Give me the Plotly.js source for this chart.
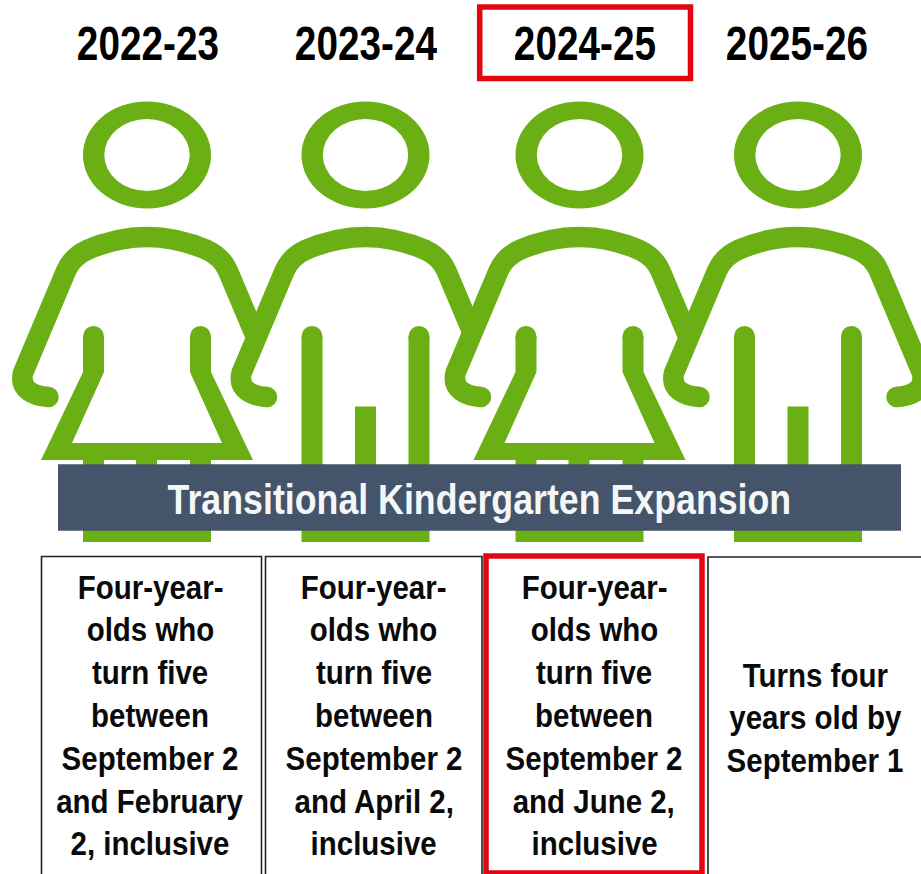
<!DOCTYPE html>
<html>
<head>
<meta charset="utf-8">
<script src="https://cdn.plot.ly/plotly-3.0.1.min.js"></script>
<style>html,body{margin:0;padding:0;background:#fff;overflow:hidden}</style>
</head>
<body>
<div id="chart" style="width:921px;height:874px"></div>
<script>
const schoolYears = ["2022-23", "2023-24", "2024-25", "2025-26"];
const yearLabelCentres = [147.5, 366, 585, 797];
const personCentres = [147, 365.5, 579.5, 798];
const personKinds = ["girl", "boy", "girl", "boy"];
const bannerText = "Transitional Kindergarten Expansion";
const eligibility = [
  ["Four-year-", "olds who", "turn five", "between", "September 2", "and February", "2, inclusive"],
  ["Four-year-", "olds who", "turn five", "between", "September 2", "and April 2,", "inclusive"],
  ["Four-year-", "olds who", "turn five", "between", "September 2", "and June 2,", "inclusive"],
  ["Turns four", "years old by", "September 1"]
];
const boxTextCentres = [150, 373.5, 594, 815];
const boxFirstLine = [587, 587, 587, 675];
const lineStep = 42.8;

const GREEN = "#6AAF13", NAVY = "#44546A", RED = "#E2060E", DARK = "#222222";
const FONT = "'Liberation Sans',Arial,sans-serif";
const shapes = [], annotations = [], squeeze = [];

function rect(x0, y0, x1, y1, fill) {
  shapes.push({type: "rect", x0, y0, x1, y1, fillcolor: fill, line: {width: 0}});
}
function ell(cx, cy, rx, ry, fill) {
  shapes.push({type: "circle", x0: cx - rx, x1: cx + rx, y0: cy - ry, y1: cy + ry, fillcolor: fill, line: {width: 0}});
}
function box(x0, y0, x1, y1, colour, width) {
  shapes.push({type: "rect", x0, y0, x1, y1, fillcolor: "rgba(0,0,0,0)", line: {color: colour, width}});
}
function label(x, y, text, size, colour, ratio) {
  annotations.push({x, y, xref: "x", yref: "y", text, showarrow: false, xanchor: "center", yanchor: "middle",
    font: {family: FONT, size, color: colour, weight: 700}});
  squeeze.push(ratio);
}
function person(c, kind, last) {
  const X = d => (c + d).toFixed(1);
  ell(c, 155, 64, 53.5, GREEN);
  ell(c, 155, 42.7, 36, "#ffffff");
  let d = `M${X(-98.5)},397 C${X(-113)},396 ${X(-128)},390 ${X(-124)},373 L${X(-81)},271 ` +
          `Q${X(-75)},257 ${X(-60)},250 Q${X(-30)},237 ${X(0)},237 Q${X(30)},237 ${X(60)},250 ` +
          `Q${X(75)},257 ${X(81)},271 `;
  d += last ? `L${X(124)},373 C${X(128)},390 ${X(113)},396 ${X(98.5)},397`
            : `L${X(108)},335`;
  shapes.push({type: "path", path: d, fillcolor: "rgba(0,0,0,0)", line: {color: GREEN, width: 20.5}});
  ell(c - 98.5, 397, 10.25, 10.25, GREEN);
  if (last) ell(c + 98.5, 397, 10.25, 10.25, GREEN);
  ell(c - 53.5, 336.5, 10.5, 10.5, GREEN);
  ell(c + 53.5, 336.5, 10.5, 10.5, GREEN);
  if (kind === "girl") {
    const p = [[-64,336],[-64,372],[-106,460],[106,460],[64,372],[64,336],[43,336],[43,372],[75,443],[-75,443],[-43,372],[-43,336]];
    shapes.push({type: "path", path: "M" + p.map(q => X(q[0]) + "," + q[1]).join(" L") + " Z", fillcolor: GREEN, line: {width: 0}});
    rect(c - 64, 458, c - 43, 466, GREEN);
    rect(c - 11, 458, c + 10, 466, GREEN);
    rect(c + 43, 458, c + 64, 466, GREEN);
  } else {
    rect(c - 64, 336, c - 43, 466, GREEN);
    rect(c + 43, 336, c + 64, 466, GREEN);
    rect(c - 10.5, 406.5, c + 10.5, 466, GREEN);
  }
  rect(c - 64, 520, c + 64, 542, GREEN);
}

personCentres.forEach((c, i) => person(c, personKinds[i], i === personCentres.length - 1));

rect(58, 464.3, 901, 530.7, NAVY);
label(479, 499, bannerText, 42, "#F4F6F8", 0.851);

box(479.7, 7, 690.5, 78.5, RED, 5.5);
box(41.5, 556.5, 261.5, 885, DARK, 1.6);
box(265.5, 556.5, 482, 885, DARK, 1.6);
box(708, 557, 940, 885, DARK, 1.6);
box(486, 556, 702, 873, RED, 5.5);

schoolYears.forEach((t, i) => label(yearLabelCentres[i], 42.5, t, 49, "#000000", 0.79));
eligibility.forEach((lines, i) => lines.forEach((t, j) =>
  label(boxTextCentres[i], boxFirstLine[i] + j * lineStep, t, 33, "#0A0A0A", 0.893)));

Plotly.newPlot("chart", [], {
  width: 921, height: 874, autosize: false,
  margin: {l: 0, r: 0, t: 0, b: 0, pad: 0},
  paper_bgcolor: "#ffffff", plot_bgcolor: "#ffffff", showlegend: false,
  xaxis: {range: [0, 921], visible: false, fixedrange: true},
  yaxis: {range: [874, 0], visible: false, fixedrange: true},
  shapes, annotations
}, {displayModeBar: false, staticPlot: true}).then(() => {
  document.querySelectorAll("#chart .annotation-text").forEach((el, i) => {
    el.setAttribute("textLength", (el.getComputedTextLength() * squeeze[i]).toFixed(1));
    el.setAttribute("lengthAdjust", "spacingAndGlyphs");
  });
});
</script>
</body>
</html>
